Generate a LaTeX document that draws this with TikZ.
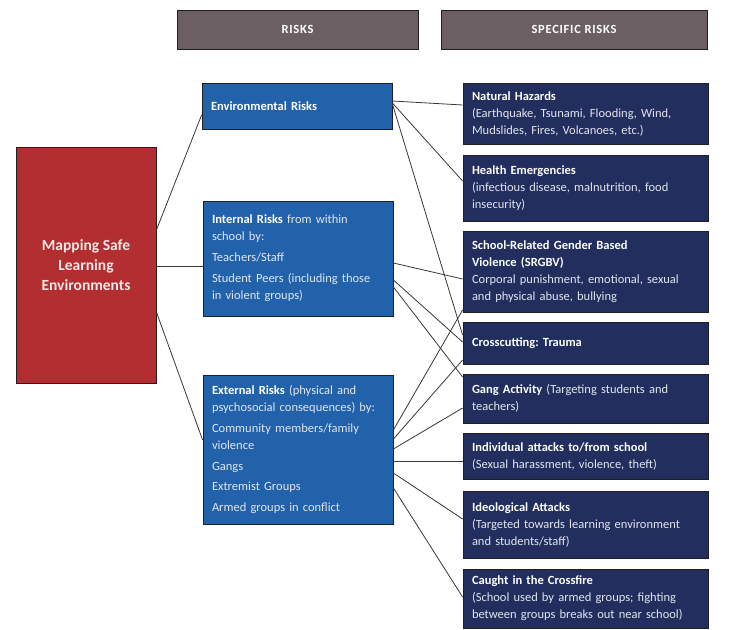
\documentclass[tikz,border=0pt]{standalone}
\usepackage{fontspec}
\setmainfont{Carlito}
\frenchspacing
\definecolor{hdrfill}{RGB}{108,95,99}
\definecolor{redfill}{RGB}{178,46,48}
\definecolor{midblue}{RGB}{33,98,170}
\definecolor{navy}{RGB}{34,46,94}
\definecolor{bodytxt}{RGB}{226,229,238}
\definecolor{redtxt}{RGB}{246,232,232}
\definecolor{linegray}{RGB}{55,55,60}
\definecolor{edge}{RGB}{30,30,35}
\newcommand{\hd}[1]{{\bfseries\color{white}#1}}
\tikzset{
  box/.style={draw=edge, line width=0.8pt, anchor=center, inner ysep=2pt, align=left,
    font=\fontsize{12.5}{17}\selectfont\frenchspacing, text=bodytxt},
  midbox/.style={box, fill=midblue, inner xsep=9pt, text width=172pt, minimum height=#1},
  rightbox/.style={box, fill=navy, inner xsep=9pt, text width=227pt, minimum height=#1},
  hdrbox/.style={draw=edge, line width=0.9pt, fill=hdrfill, minimum height=39pt, text=white,
    font=\bfseries\fontsize{12.5}{14}\selectfont\addfontfeature{LetterSpace=6}},
  redbox/.style={draw=edge, line width=0.8pt, fill=redfill, minimum width=140pt, minimum height=236pt,
    align=center, text=redtxt, font=\bfseries\fontsize{15.5}{20}\selectfont},
  link/.style={draw=linegray, line width=0.8pt}
}
\begin{document}
\begin{tikzpicture}[x=1pt,y=-1pt]
\useasboundingbox (0,0) rectangle (736,629);
% headers
\node[hdrbox, minimum width=241pt] (h1) at (297.5,29.5) {RISKS};
\node[hdrbox, minimum width=266pt] (h2) at (574,29.5) {SPECIFIC RISKS};
% root
\node[redbox] (root) at (86,265) {Mapping Safe\\Learning\\Environments};
% middle column
\node[midbox=46pt] (env) at (297,106) {\hd{Environmental Risks}};
\node[midbox=115pt] (int) at (298,258.5) {\hd{Internal Risks} from within\\school by:\\[4pt]Teachers/Staff\\[4pt]Student Peers (including those\\in violent groups)};
\node[midbox=149pt] (ext) at (298,449.5) {\hd{External Risks} (physical and\\psychosocial consequences) by:\\[4pt]Community members/family\\violence\\[3.5pt]Gangs\\[3.5pt]Extremist Groups\\[3.5pt]Armed groups in conflict};
% right column
\node[rightbox=61pt] (nat) at (585.5,113.5) {\hd{Natural Hazards}\\(Earthquake, Tsunami, Flooding, Wind,\\Mudslides, Fires, Volcanoes, etc.)};
\node[rightbox=66pt] (hea) at (585.5,188) {\hd{Health Emergencies}\\(infectious disease, malnutrition, food\\insecurity)};
\node[rightbox=81pt] (srg) at (585.5,271.5) {\hd{School-Related Gender Based}\\\hd{Violence (SRGBV)}\\Corporal punishment, emotional, sexual\\and physical abuse, bullying};
\node[rightbox=42pt] (cro) at (585.5,343) {\hd{Crosscutting: Trauma}};
\node[rightbox=49pt] (gan) at (585.5,398.5) {\hd{Gang Activity} (Targeting students and\\teachers)};
\node[rightbox=46pt] (ind) at (585.5,456) {\hd{Individual attacks to/from school}\\(Sexual harassment, violence, theft)};
\node[rightbox=67pt] (ide) at (585.5,524.5) {\hd{Ideological Attacks}\\(Targeted towards learning environment\\and students/staff)};
\node[rightbox=59pt] (cfi) at (585.5,598.5) {\hd{Caught in the Crossfire}\\(School used by armed groups; fighting\\between groups breaks out near school)};
% connectors root -> middle
\draw[link] ([yshift=35pt]root.east) -- ([yshift=-9pt]env.west);
\draw[link] ([yshift=-1pt]root.east) -- ([yshift=-7.5pt]int.west);
\draw[link] ([yshift=-47pt]root.east) -- ([yshift=9.5pt]ext.west);
% environmental
\draw[link] ([yshift=5pt]env.east) -- ([yshift=8.5pt]nat.west);
\draw[link] ([yshift=3pt]env.east) -- ([yshift=7pt]hea.west);
\draw[link] ([yshift=2pt]env.east) -- ([yshift=8pt]cro.west);
% internal
\draw[link] ([yshift=-4.5pt]int.east) -- ([yshift=-7.5pt]srg.west);
\draw[link] ([yshift=-21.5pt]int.east) -- ([yshift=1pt]cro.west);
\draw[link] ([yshift=-28.5pt]int.east) -- ([yshift=21.5pt]gan.west);
% external
\draw[link] ([yshift=19.5pt]ext.east) -- ([yshift=-38.5pt]srg.west);
\draw[link] ([yshift=10.5pt]ext.east) -- ([yshift=-17pt]cro.west);
\draw[link] ([yshift=0.5pt]ext.east) -- ([yshift=-9.5pt]gan.west);
\draw[link] ([yshift=-11.5pt]ext.east) -- ([yshift=-5pt]ind.west);
\draw[link] ([yshift=-23.5pt]ext.east) -- ([yshift=5.5pt]ide.west);
\draw[link] ([yshift=-38.5pt]ext.east) -- ([yshift=1.5pt]cfi.west);
\end{tikzpicture}
\end{document}
